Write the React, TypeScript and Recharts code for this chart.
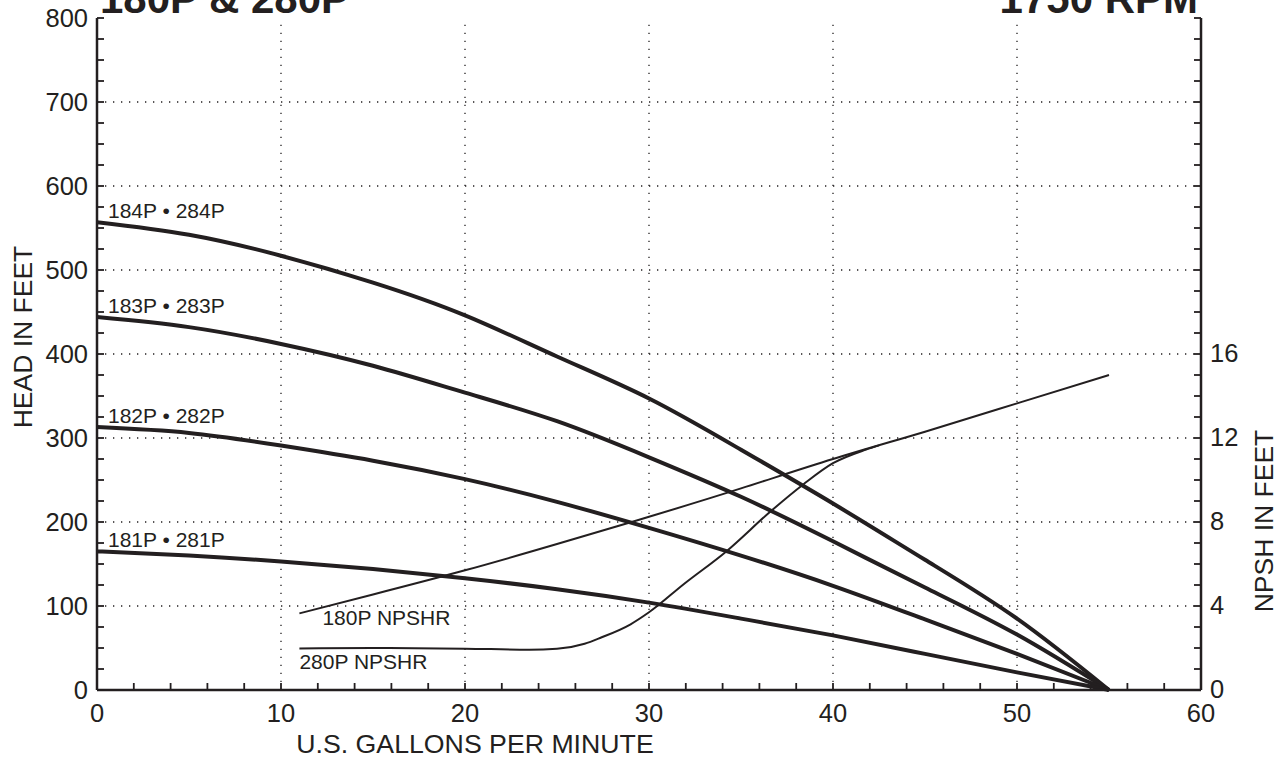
import { LineChart, Line, XAxis, YAxis, ReferenceLine } from 'recharts';

// flow (gpm) vs head (ft)
const pump184: [number, number][] = [
    [0, 557], [5, 542], [10, 517], [15, 485], [20, 446], [25, 397], [30, 347],
    [35, 286], [40, 222], [45, 155], [50, 85], [55, 0],
];
const pump183: [number, number][] = [
    [0, 444], [5, 432], [10, 412], [15, 386], [20, 354], [25, 320], [30, 277],
    [35, 230], [40, 177], [45, 122], [50, 66], [55, 0],
];
const pump182: [number, number][] = [
    [0, 313], [5, 306], [10, 291], [15, 273], [20, 251], [25, 224], [30, 193],
    [35, 160], [40, 124], [45, 84], [50, 43], [55, 0],
];
const pump181: [number, number][] = [
    [0, 165], [5, 160], [10, 153], [15, 144], [20, 133], [25, 120], [30, 104],
    [35, 85], [40, 65], [45, 43], [50, 21], [55, 0],
];

// flow (gpm) vs NPSH required (ft)
const npsh180: [number, number][] = [
    [11, 3.65], [15, 4.55], [20, 5.7], [25, 6.95], [30, 8.25], [35, 9.6], [40, 11.0],
    [45, 12.3], [50, 13.65], [55, 15.0],
];
const npsh280: [number, number][] = [
    [11, 1.98], [15, 2.0], [20, 1.97], [23.5, 1.92], [25, 1.96], [26.5, 2.2], [27.4, 2.5],
    [29, 3.13], [30, 3.7], [31.9, 5.05], [34.2, 6.6], [36.6, 8.5], [38.4, 9.8], [40, 10.8],
    [41.8, 11.45], [42.5, 11.65],
];

const FLOW_TICKS = Array.from({ length: 31 }, (_, i) => i * 2);
const HEAD_TICKS = Array.from({ length: 33 }, (_, i) => i * 25);
const NPSH_TICKS = Array.from({ length: 33 }, (_, i) => i);
const FLOW_GRID = [10, 20, 30, 40, 50];
const HEAD_GRID = [100, 200, 300, 400, 500, 600, 700];

const INK = '#231f20';
const FONT = '"Liberation Sans", Arial, Helvetica, sans-serif';
const TICK_LEN = 7;

const toRows = (pts: [number, number][]) => pts.map(([q, v]) => ({ q, v }));

const BottomTick = (props: any) => {
    const { x, y, payload } = props;
    return (
        <g>
            <line x1={x} x2={x} y1={y} y2={y - TICK_LEN} stroke={INK} strokeWidth={1.8} />
            {payload.value % 10 === 0 && (
                <text x={x} y={y + 32} textAnchor="middle" fontSize={25.5} fill={INK} fontFamily={FONT}>
                    {payload.value}
                </text>
            )}
        </g>
    );
};

const TopTick = (props: any) => {
    const { x, y } = props;
    return <line x1={x} x2={x} y1={y} y2={y + TICK_LEN} stroke={INK} strokeWidth={1.8} />;
};

const LeftTick = (props: any) => {
    const { x, y, payload } = props;
    return (
        <g>
            <line x1={x} x2={x + TICK_LEN} y1={y} y2={y} stroke={INK} strokeWidth={1.8} />
            {payload.value % 100 === 0 && (
                <text x={x - 9} y={y + 9} textAnchor="end" fontSize={25.5} fill={INK} fontFamily={FONT}>
                    {payload.value}
                </text>
            )}
        </g>
    );
};

const RightTick = (props: any) => {
    const { x, y, payload } = props;
    return (
        <g>
            <line x1={x} x2={x - TICK_LEN} y1={y} y2={y} stroke={INK} strokeWidth={1.8} />
            {payload.value % 4 === 0 && payload.value <= 16 && (
                <text x={x + 9} y={y + 8} textAnchor="start" fontSize={25.5} fill={INK} fontFamily={FONT}>
                    {payload.value}
                </text>
            )}
        </g>
    );
};

// draws the series name next to its first point
const firstPointLabel = (text: string, dx: number, dy: number) => (props: any) => {
    if (props.index !== 0) return <g />;
    return (
        <text x={props.x + dx} y={props.y + dy} fontSize={21} fill={INK} fontFamily={FONT}>
            {text}
        </text>
    );
};

export default function App() {
    return (
        <div style={{ position: 'absolute', left: 0, top: 0, width: 1285, height: 759, background: '#fff' }}>
            <LineChart width={1285} height={759} margin={{ top: 18, right: 24, left: 37, bottom: 39 }}>
                <XAxis
                    xAxisId="bottom"
                    dataKey="q"
                    type="number"
                    domain={[0, 60]}
                    ticks={FLOW_TICKS}
                    interval={0}
                    height={30}
                    tickSize={0}
                    tickMargin={0}
                    tickLine={false}
                    axisLine={{ stroke: INK, strokeWidth: 2.5 }}
                    tick={<BottomTick />}
                    allowDataOverflow
                />
                <XAxis
                    xAxisId="top"
                    orientation="top"
                    dataKey="q"
                    type="number"
                    domain={[0, 60]}
                    ticks={FLOW_TICKS}
                    interval={0}
                    height={0}
                    tickSize={0}
                    tickMargin={0}
                    tickLine={false}
                    axisLine={{ stroke: INK, strokeWidth: 2.5 }}
                    tick={<TopTick />}
                />
                <YAxis
                    yAxisId="head"
                    type="number"
                    domain={[0, 800]}
                    ticks={HEAD_TICKS}
                    interval={0}
                    width={60}
                    tickSize={0}
                    tickMargin={0}
                    tickLine={false}
                    axisLine={{ stroke: INK, strokeWidth: 2.5 }}
                    tick={<LeftTick />}
                />
                <YAxis
                    yAxisId="npsh"
                    orientation="right"
                    type="number"
                    domain={[0, 32]}
                    ticks={NPSH_TICKS}
                    interval={0}
                    width={60}
                    tickSize={0}
                    tickMargin={0}
                    tickLine={false}
                    axisLine={{ stroke: INK, strokeWidth: 2.5 }}
                    tick={<RightTick />}
                />

                {FLOW_GRID.map((v) => (
                    <ReferenceLine key={`gx${v}`} x={v} xAxisId="bottom" yAxisId="head"
                        stroke={INK} strokeWidth={1.3} strokeDasharray="1.3 6.7" />
                ))}
                {HEAD_GRID.map((v) => (
                    <ReferenceLine key={`gy${v}`} y={v} xAxisId="bottom" yAxisId="head"
                        stroke={INK} strokeWidth={1.3} strokeDasharray="1.3 6.7" />
                ))}

                <Line data={toRows(pump184)} dataKey="v" xAxisId="bottom" yAxisId="head" type="natural"
                    stroke={INK} strokeWidth={4} dot={false} isAnimationActive={false}
                    label={firstPointLabel('184P • 284P', 11, -4)} />
                <Line data={toRows(pump183)} dataKey="v" xAxisId="bottom" yAxisId="head" type="natural"
                    stroke={INK} strokeWidth={4} dot={false} isAnimationActive={false}
                    label={firstPointLabel('183P • 283P', 11, -4)} />
                <Line data={toRows(pump182)} dataKey="v" xAxisId="bottom" yAxisId="head" type="natural"
                    stroke={INK} strokeWidth={4} dot={false} isAnimationActive={false}
                    label={firstPointLabel('182P • 282P', 11, -4)} />
                <Line data={toRows(pump181)} dataKey="v" xAxisId="bottom" yAxisId="head" type="natural"
                    stroke={INK} strokeWidth={4} dot={false} isAnimationActive={false}
                    label={firstPointLabel('181P • 281P', 11, -4)} />
                <Line data={toRows(npsh180)} dataKey="v" xAxisId="bottom" yAxisId="npsh" type="natural"
                    stroke={INK} strokeWidth={2} dot={false} isAnimationActive={false}
                    label={firstPointLabel('180P NPSHR', 23, 12)} />
                <Line data={toRows(npsh280)} dataKey="v" xAxisId="bottom" yAxisId="npsh" type="monotone"
                    stroke={INK} strokeWidth={2} dot={false} isAnimationActive={false}
                    label={firstPointLabel('280P NPSHR', 0, 21)} />
            </LineChart>

            <svg width={1285} height={759} style={{ position: 'absolute', left: 0, top: 0, pointerEvents: 'none' }}>
                <text x={100} y={13} fontSize={42} fontWeight="bold" fill={INK} fontFamily={FONT}>180P &amp; 280P</text>
                <text x={1198} y={13} fontSize={42} fontWeight="bold" fill={INK} fontFamily={FONT} textAnchor="end">1750 RPM</text>
                <text x={475} y={753} fontSize={26.7} fill={INK} fontFamily={FONT} textAnchor="middle">U.S. GALLONS PER MINUTE</text>
                <text x={0} y={0} fontSize={26.5} fill={INK} fontFamily={FONT} textAnchor="middle"
                    transform="translate(32 337) rotate(-90)">HEAD IN FEET</text>
                <text x={0} y={0} fontSize={26.5} fill={INK} fontFamily={FONT} textAnchor="middle"
                    transform="translate(1273 521) rotate(-90)">NPSH IN FEET</text>
            </svg>
        </div>
    );
}
